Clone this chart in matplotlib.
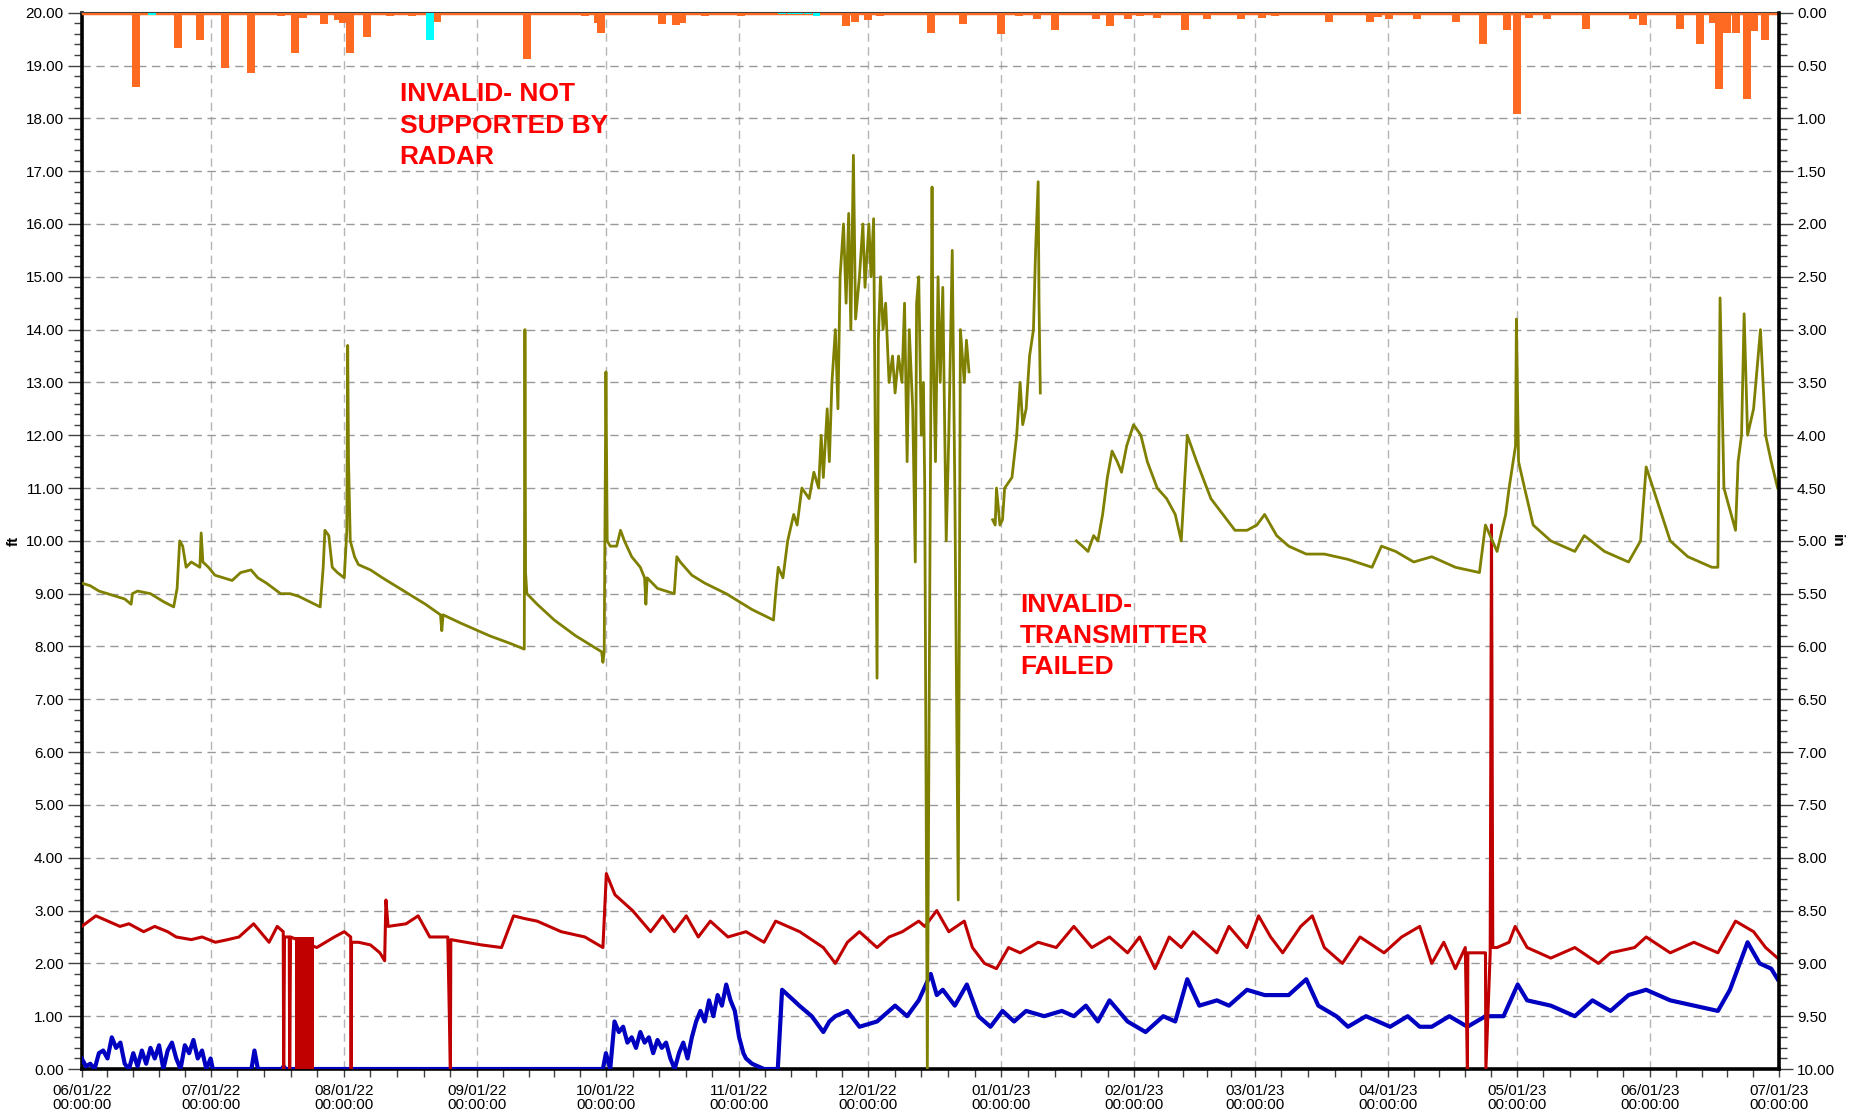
import numpy as np
import pandas as pd
import matplotlib
matplotlib.use("Agg")
import matplotlib.pyplot as plt
from matplotlib.ticker import MultipleLocator, FormatStrFormatter

plt.rcParams['font.family'] = ['Liberation Sans', 'DejaVu Sans']

# —— data (x = days since 06/01/22) —— #
start = pd.Timestamp("2022-06-01")
months = pd.date_range("2022-06-01", "2023-07-01", freq="MS")

level_day = [0, 2, 4, 6, 8, 10, 11.5, 11.8, 13, 16, 19, 21.4, 22.2, 22.8, 23.5, 24.3, 25.5, 27.5, 27.8, 28.2,
             29.5, 31, 33, 35, 37, 39.4, 41, 43, 46.3, 48.5, 50.5, 53, 55.5, 56.2, 56.6, 57.5, 58.3, 59.5,
             61.1, 61.7, 61.9, 62.1, 62.5, 63.5, 64.4, 67.2, 70, 75, 80, 83.5, 83.8, 84.1, 88, 95, 100, 103,
             103.15, 103.3, 103.6, 106, 110, 115, 119, 121, 121.3, 121.6, 122.0, 122.3, 123, 124.5, 125.4,
             126.3, 128, 130, 131, 131.3, 131.6, 134, 137.9, 138.5, 139.3, 142, 145, 150, 156, 161, 161.5,
             162.1, 163.2, 164.3, 165.7, 166.5, 167.6, 169.3, 170.4, 171.5, 172.1, 172.6, 173.5, 174, 174.6,
             175.4, 176, 176.5, 177.3, 177.9, 178.5, 179, 179.6, 180.1, 181, 181.8, 182.3, 183.2, 183.7,
             184.3, 184.5, 185.1, 185.4, 185.9, 186.5, 187.1, 187.9, 188.7, 189.3, 190.1, 190.9, 191.5,
             192.1, 192.6, 193.4, 194, 194.3, 194.8, 195.4, 195.9, 196.2, 196.8, 197.3, 197.9, 198.1, 198.7,
             199.3, 199.8, 200.4, 201.2, 201.8, 202.6, 203.2, 204, 204.5, 205.4, 205.9, 206.5, 207,
             212, 212.6, 212.9, 213.7, 214.3, 214.8, 216.5, 217.6, 218.4, 219, 219.8, 220.6, 221.5, 222,
             222.6, 222.8, 223.1, 224,
             231.5, 232.9, 234.2, 235.5, 236.5, 237.6, 238.7, 239.8, 241, 242, 243.2, 244.8, 246.5, 248,
             250.3, 252.5, 254.5, 255.9, 257.3, 259.5, 262.8, 265.6, 268.4, 271.2, 273.5, 275.3, 278.1,
             280.9, 285, 289.2, 294.7, 300.3, 302.5, 305.8, 310, 314.2,
             319.7, 325.3, 326.7, 329.4, 331.4, 332.2, 333.7, 333.9, 334.4, 335.8, 337.8, 341.9, 347.5,
             349.7, 354.4, 360, 362.8, 364.1, 366.9, 369.7, 373.8, 379.4, 380.8, 381.3, 382.2, 384.9, 385.5,
             386.3, 386.9, 387.7, 389.1, 390.7, 391.9, 393.2, 394.7]
level_ft = [9.2, 9.15, 9.05, 9.0, 8.95, 8.9, 8.8, 9.0, 9.05, 9.0, 8.85, 8.75, 9.1, 10.0, 9.9, 9.5, 9.6, 9.5, 10.15, 9.6,
            9.5, 9.35, 9.3, 9.25, 9.4, 9.45, 9.3, 9.2, 9.0, 9.0, 8.95, 8.85, 8.75, 9.5, 10.2, 10.1, 9.5, 9.4,
            9.3, 10.2, 13.7, 11.5, 10.0, 9.7, 9.55, 9.45, 9.3, 9.05, 8.8, 8.6, 8.3, 8.6, 8.45, 8.2, 8.05, 7.95,
            14.0, 9.4, 9.0, 8.8, 8.5, 8.2, 8.0, 7.9, 7.7, 7.9, 13.2, 10.0, 9.9, 9.9, 10.2,
            10.0, 9.7, 9.5, 9.3, 8.8, 9.3, 9.1, 9.0, 9.7, 9.6, 9.35, 9.2, 9.0, 8.7, 8.5, 9.0,
            9.5, 9.3, 10.0, 10.5, 10.3, 11.0, 10.8, 11.3, 11.0, 12.0, 11.2, 12.5, 11.5, 13.0,
            14.0, 12.5, 15.0, 16.0, 14.5, 16.2, 14.0, 17.3, 14.2, 15.0, 16.0, 14.8, 16.0, 15.0,
            16.1, 14.0, 7.4, 13.8, 15.0, 14.0, 14.5, 13.0, 13.5, 12.8, 13.5, 13.0, 14.5,
            11.5, 14.0, 12.5, 9.6, 14.5, 15.0, 12.0, 13.0, 11.0, 0.0, 8.0, 16.7, 14.0, 11.5,
            15.0, 13.0, 14.8, 10.0, 12.0, 15.5, 11.0, 3.2, 14.0, 13.0, 13.8, 13.2, np.nan,
            10.4, 10.3, 11.0, 10.3, 10.4, 11.0, 11.2, 12.0, 13.0, 12.2, 12.5, 13.5, 14.0, 15.5,
            16.8, 14.5, 12.8, np.nan,
            10.0, 9.9, 9.8, 10.1, 10.0, 10.5, 11.2, 11.7, 11.5, 11.3, 11.8, 12.2, 12.0, 11.5,
            11.0, 10.8, 10.5, 10.0, 12.0, 11.5, 10.8, 10.5, 10.2, 10.2, 10.3, 10.5, 10.1,
            9.9, 9.75, 9.75, 9.65, 9.5, 9.9, 9.8, 9.6, 9.7,
            9.5, 9.4, 10.3, 9.8, 10.5, 11.0, 11.8, 14.2, 11.5, 11.0, 10.3, 10.0, 9.8,
            10.1, 9.8, 9.6, 10.0, 11.4, 10.7, 10.0, 9.7, 9.5, 9.5, 14.6, 11.0, 10.2, 11.5,
            12.0, 14.3, 12.0, 12.5, 14.0, 12.0, 11.5, 11.0]

red_day = [0, 3.3, 6.1, 8.9, 11, 14.4, 17, 20, 22, 25.5, 28, 31.1, 34, 36.6, 40, 43.6, 45.5, 46.9, 47.0, 47.2,
           48.3, 48.4, 48.6, 54.7, 58.8, 61.1, 62.6, 62.7, 62.8, 64.4, 67.2, 69.4, 70.5, 70.8, 71.3, 75.5,
           78.3, 81, 85.2, 85.8, 85.9, 89.4, 93, 97.7, 100.5, 103, 106, 111.6, 117.1, 121.3, 122.1, 124.1,
           128.2, 132.4, 135.2, 137.9, 140.7, 143.5, 146.3, 150.4, 154.6, 158.8, 161.5, 167.1, 172.6,
           175.4, 178.2, 181, 185.1, 187.9, 191, 194.8, 196.2, 199, 201.8, 205.4, 207.3, 210.1, 212.9,
           215.7, 218.4, 222.6, 226.8, 230.9, 235.1, 239.2, 243.4, 246.2, 249.8, 253.1, 255.9, 258.7,
           264.2, 267, 271.2, 273.9, 276.7, 279.5, 283.7, 286.4, 289.2, 293.4, 297.5, 303.1, 307.2,
           311.4, 314.2, 317, 319.7, 322, 322.5, 322.6, 325.3, 326.7, 326.8, 327.8, 328.1, 328.4, 329.4,
           332.2, 333.6, 336.4, 341.9, 347.5, 353, 355.8, 361.4, 364.1, 369.7, 375.2, 380.8, 384.9,
           389.1, 391.9, 394.7]
red_ft = [2.7, 2.9, 2.8, 2.7, 2.75, 2.6, 2.7, 2.6, 2.5, 2.45, 2.5, 2.4, 2.45, 2.5, 2.75, 2.4, 2.7, 2.6, 0.0, 2.5,
          2.5, 0.0, 2.5, 2.3, 2.5, 2.6, 2.5, 0.0, 2.4, 2.4, 2.35, 2.2, 2.05, 3.2, 2.7, 2.75,
          2.9, 2.5, 2.5, 0.0, 2.45, 2.4, 2.35, 2.3, 2.9, 2.85, 2.8, 2.6, 2.5, 2.3, 3.7, 3.3,
          3.0, 2.6, 2.9, 2.6, 2.9, 2.5, 2.8, 2.5, 2.6, 2.4, 2.8, 2.6, 2.3,
          2.0, 2.4, 2.6, 2.3, 2.5, 2.6, 2.8, 2.7, 3.0, 2.6, 2.8, 2.3, 2.0, 1.9,
          2.3, 2.2, 2.4, 2.3, 2.7, 2.3, 2.5, 2.2, 2.5, 1.9, 2.5, 2.3, 2.6,
          2.2, 2.7, 2.3, 2.9, 2.5, 2.2, 2.7, 2.9, 2.3, 2.0, 2.5, 2.2, 2.5,
          2.7, 2.0, 2.4, 1.9, 2.3, 0.0, 2.2, 2.2, 2.2, 0.0, 2.2, 10.3, 2.3, 2.3,
          2.4, 2.7, 2.3, 2.1, 2.3, 2.0, 2.2, 2.3, 2.5, 2.2, 2.4, 2.2, 2.8,
          2.6, 2.3, 2.1]
red_block_day = [49.7, 54.1]
red_block_ft = 2.5

blue_day = [0, 1, 2, 3, 4, 5, 6, 7, 8, 9, 10, 11, 12, 13, 14, 15, 16, 17, 18, 19, 20, 21, 22, 23, 24, 25, 26,
            27, 28, 29, 30, 30.5, 39.5, 40.2, 41, 46.5, 47, 47.5, 121.3, 122, 123, 124, 125, 126, 127, 128,
            129, 130, 131, 132, 133, 134, 135, 136, 137, 138, 139, 140, 141, 142, 143, 144, 145, 146, 147,
            148, 149, 150, 151, 152, 153, 154, 154.6, 156, 158.8, 162, 163, 165.7, 167, 169.9, 172.6, 174,
            175.4, 178.2, 181, 185.1, 189.3, 192.1, 194.8, 197.6, 199, 200.4, 203.2, 206, 208.7, 211.5,
            214.3, 217, 219.8, 224, 228.1, 230.9, 233.7, 236.5, 239.2, 243.4, 247.6, 251.7, 254.5, 257.3,
            260.1, 264.2, 267, 271.2, 275.3, 280.9, 285, 287.8, 292, 294.7, 298.9, 301.7, 304.5, 308.6,
            311.4, 314.2, 318.3, 322.5, 326.7, 330.9, 334.2, 336.4, 341.9, 347.5, 351.6, 355.8, 360,
            364.1, 369.7, 375.2, 380.8, 383.6, 387.7, 390.5, 393.2, 394.7]
blue_ft = [0.2, 0.05, 0.1, 0.0, 0.3, 0.35, 0.2, 0.6, 0.4, 0.5, 0.1, 0.0, 0.3, 0.05, 0.35, 0.1, 0.4, 0.2, 0.45,
           0.0, 0.35, 0.5, 0.2, 0.0, 0.45, 0.3, 0.55, 0.2, 0.35, 0.0, 0.2, 0.0, 0.0, 0.35, 0.0, 0.0, 0.05,
           0.0, 0.0, 0.3, 0.0, 0.9, 0.7, 0.8, 0.5, 0.6, 0.4, 0.7, 0.5, 0.6, 0.3, 0.55, 0.4, 0.5, 0.2, 0.0,
           0.3, 0.5, 0.2, 0.6, 0.9, 1.1, 0.9, 1.3, 1.0, 1.4, 1.2, 1.6, 1.3, 1.1, 0.6, 0.3, 0.2, 0.1, 0.0,
           0.0, 1.5, 1.3, 1.2, 1.0, 0.7, 0.9, 1.0, 1.1, 0.8, 0.9, 1.2, 1.0, 1.3, 1.8, 1.4, 1.5, 1.2, 1.6,
           1.0, 0.8, 1.1, 0.9, 1.1, 1.0, 1.1, 1.0, 1.2, 0.9, 1.3, 0.9, 0.7, 1.0, 0.9, 1.7, 1.2, 1.3, 1.2,
           1.5, 1.4, 1.4, 1.7, 1.2, 1.0, 0.8, 1.0, 0.9, 0.8, 1.0, 0.8, 0.8, 1.0, 0.8, 1.0, 1.0, 1.6, 1.3,
           1.2, 1.0, 1.3, 1.1, 1.4, 1.5, 1.3, 1.2, 1.1, 1.5, 2.4, 2.0, 1.9, 1.7]

rain_day = [2.6, 12.6, 22.4, 27.5, 33.4, 39.4, 42, 43.8, 46.4, 49.6, 51.5, 56.4, 59.7, 60.8, 62.4, 66.4, 71.8,
            76.9, 82.7, 103.6, 114.6, 117.1, 120.2, 120.9, 125.3, 135.1, 138.3, 139.7, 141.6, 145, 147.6,
            153.5, 177.9, 180, 183, 185.8, 190.2, 197.6, 205.1, 206.7, 213.9, 218.1, 222.3, 226.5, 228.8,
            236, 239.3, 243.5, 246.3, 250.3, 256.8, 261.9, 269.8, 274.7, 277.7, 285.4, 290.3, 299.8, 301.7,
            304.2, 310.8, 319.8, 326.1, 331.7, 334, 336.8, 341, 346.8, 350.1, 361, 363.4, 365.2, 372,
            376.6, 379.6, 381, 382.9, 385, 387.6, 389.2, 391.8, 393.6]
rain_in = [0.02, 0.70, 0.33, 0.26, 0.52, 0.57, 0.02, 0.02, 0.03, 0.38, 0.05, 0.11, 0.07, 0.10, 0.38, 0.23, 0.03,
           0.03, 0.085, 0.44, 0.02, 0.03, 0.10, 0.19, 0.02, 0.11, 0.12, 0.10, 0.02, 0.03, 0.02,
           0.03, 0.13, 0.085, 0.07, 0.03, 0.02, 0.19, 0.11, 0.02, 0.20, 0.03, 0.06, 0.16, 0.02,
           0.06, 0.13, 0.06, 0.03, 0.05, 0.16, 0.06, 0.06, 0.05, 0.03, 0.02, 0.085, 0.085, 0.04,
           0.06, 0.06, 0.085, 0.30, 0.16, 0.96, 0.05, 0.06, 0.02, 0.15, 0.06, 0.12, 0.02, 0.15,
           0.30, 0.10, 0.72, 0.19, 0.19, 0.82, 0.17, 0.26, 0.02]
cyan_day = [16.4, 81, 163, 165, 167, 169, 171]
cyan_in = [0.02, 0.26, 0.01, 0.01, 0.01, 0.01, 0.03]


def to_dates(days):
    return start + pd.to_timedelta(np.asarray(days, dtype=float), unit="D")


# —— plot —— #
fig, ax = plt.subplots(figsize=(18.7, 11.16), dpi=100)
fig.subplots_adjust(left=0.0437, right=0.9513, bottom=0.0421, top=0.9886)

ax.plot(to_dates(blue_day), blue_ft, color="#0000C0", linewidth=3.0, zorder=3)
ax.plot(to_dates(red_day), red_ft, color="#C00000", linewidth=2.2, zorder=4)
ax.fill_between(to_dates(red_block_day), 0, red_block_ft, color="#C00000", linewidth=0, zorder=4)
ax.plot(to_dates(level_day), level_ft, color="#808000", linewidth=2.0, zorder=5)

ax.text(start + pd.Timedelta(days=74), 18.68, "INVALID- NOT\nSUPPORTED BY\nRADAR", color="#FF0000",
        fontsize=19, fontweight="bold", va="top", ha="left", linespacing=1.38, zorder=6)
ax.text(start + pd.Timedelta(days=218.4), 9.02, "INVALID-\nTRANSMITTER\nFAILED", color="#FF0000",
        fontsize=19, fontweight="bold", va="top", ha="left", linespacing=1.38, zorder=6)

ax.set_xlim(months[0], months[-1])
ax.set_ylim(0, 20)
ax.yaxis.set_major_locator(MultipleLocator(1))
ax.yaxis.set_minor_locator(MultipleLocator(0.2))
ax.yaxis.set_major_formatter(FormatStrFormatter("%.2f"))

minor_x = []
for m0, m1 in zip(months[:-1], months[1:]):
    for k in range(1, 5):
        minor_x.append(m0 + (m1 - m0) * k / 5)
ax.set_xticks(months)
labels = ax.set_xticklabels([d.strftime("%m/%d/%y") + "\n00:00:00" for d in months], fontsize=11)
for t in labels:
    t.set_linespacing(1.0)
ax.set_xticks(minor_x, minor=True)

ax.tick_params(axis="y", which="major", length=10, width=1, color="#404040", labelsize=11, pad=3)
ax.tick_params(axis="y", which="minor", length=6, width=1, color="#404040")
ax.tick_params(axis="x", which="both", length=6, width=1, color="#404040", pad=5)

ax.grid(True, which="major", axis="y", color="#999999", linestyle=(0, (6, 4)), linewidth=1)
ax.grid(True, which="major", axis="x", color="#b5b5b5", linestyle=(0, (6, 4)), linewidth=1)

ax.set_ylabel("ft", fontweight="bold", fontsize=11)
ax.yaxis.set_label_coords(-0.036, 0.5)

for s in ["left", "bottom"]:
    ax.spines[s].set_linewidth(2.6)
    ax.spines[s].set_color("black")
ax.spines["top"].set_color("#404040")
ax.spines["top"].set_linewidth(1.5)
ax.spines["right"].set_visible(False)

# —— rain on the inverted right axis —— #
ax2 = ax.twinx()
ax2.bar(to_dates(rain_day), rain_in, width=1.8, color="#FF6A22", linewidth=0, zorder=2)
ax2.bar(to_dates(cyan_day), cyan_in, width=1.8, color="#00FFFF", linewidth=0, zorder=2)
ax2.axhline(0, color="#FF6A22", linewidth=2.5, zorder=1)
ax2.set_ylim(10, 0)
ax2.yaxis.set_major_locator(MultipleLocator(0.5))
ax2.yaxis.set_minor_locator(MultipleLocator(0.1))
ax2.yaxis.set_major_formatter(FormatStrFormatter("%.2f"))
ax2.tick_params(axis="y", which="major", length=10, width=1, color="#404040", labelsize=11, pad=3)
ax2.tick_params(axis="y", which="minor", length=6, width=1, color="#404040")
ax2.set_ylabel("in", fontweight="bold", fontsize=11, rotation=-90)
ax2.yaxis.set_label_coords(1.038, 0.5)
for s in ["left", "bottom", "top"]:
    ax2.spines[s].set_visible(False)
ax2.spines["right"].set_linewidth(2.6)
ax2.spines["right"].set_color("black")
ax2.set_xlim(months[0], months[-1])

fig.savefig("out.png", dpi=100)
